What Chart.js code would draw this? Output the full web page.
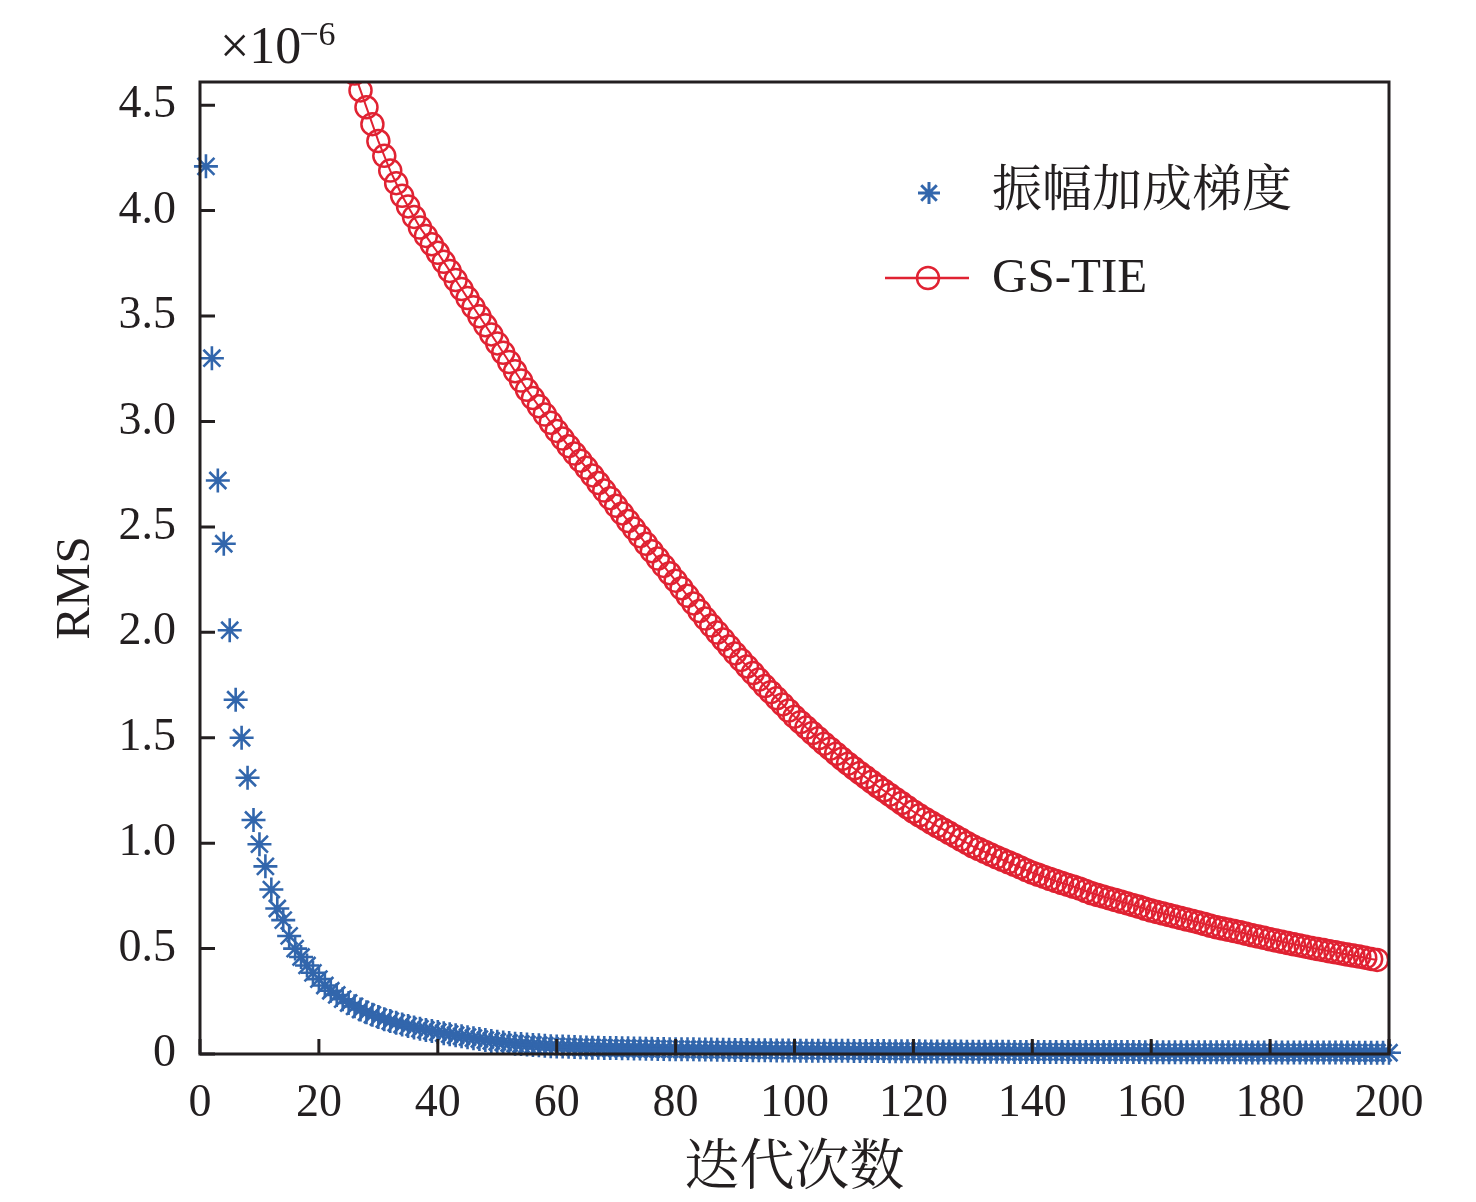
<!DOCTYPE html>
<html>
<head>
<meta charset="utf-8">
<script src="https://cdn.jsdelivr.net/npm/chart.js@4.4.0/dist/chart.umd.min.js"></script>
<style>
html,body{margin:0;padding:0;background:#fff;}
#wrap{width:1476px;height:1202px;position:relative;}
</style>
</head>
<body>
<div id="wrap"><canvas id="c" width="1476" height="1202"></canvas></div>
<script>
// ---------------- data ----------------
const blueLabel = '振幅加成梯度';
const redLabel = 'GS-TIE';
const xTitle = '迭代次数';
const yTitle = 'RMS';
const exponentBase = '×10';
const exponentPower = '−6';

const blueStart = 1;   // iteration number of first blue value
const blueValues = [
  4.21, 3.30, 2.72, 2.42, 2.01, 1.68, 1.50, 1.31, 1.11, 0.995,
  0.89, 0.78, 0.69, 0.635, 0.56, 0.50, 0.46, 0.42, 0.385, 0.355,
  0.325, 0.30, 0.28, 0.26, 0.242, 0.226, 0.211, 0.198, 0.186, 0.175,
  0.165, 0.156, 0.148, 0.140, 0.133, 0.126, 0.120, 0.114, 0.109, 0.104,
  0.099, 0.094, 0.089, 0.084, 0.080, 0.075, 0.071, 0.066, 0.062, 0.058,
  0.055, 0.052, 0.049, 0.047, 0.045, 0.043, 0.041, 0.039, 0.037, 0.036,
  0.035, 0.034, 0.033, 0.032, 0.031, 0.030, 0.030, 0.029, 0.028, 0.028,
  0.027, 0.027, 0.026, 0.026, 0.025, 0.025, 0.024, 0.024, 0.023, 0.023,
  0.022, 0.022, 0.022, 0.021, 0.021, 0.021, 0.020, 0.020, 0.020, 0.019,
  0.019, 0.019, 0.018, 0.018, 0.018, 0.018, 0.017, 0.017, 0.017, 0.017,
  0.016, 0.016, 0.016, 0.016, 0.015, 0.015, 0.015, 0.015, 0.015, 0.014,
  0.014, 0.014, 0.014, 0.014, 0.014, 0.013, 0.013, 0.013, 0.013, 0.013,
  0.013, 0.012, 0.012, 0.012, 0.012, 0.012, 0.012, 0.012, 0.011, 0.011,
  0.011, 0.011, 0.011, 0.011, 0.011, 0.011, 0.010, 0.010, 0.010, 0.010,
  0.010, 0.010, 0.010, 0.010, 0.010, 0.010, 0.009, 0.009, 0.009, 0.009,
  0.009, 0.009, 0.009, 0.009, 0.009, 0.009, 0.009, 0.009, 0.008, 0.008,
  0.008, 0.008, 0.008, 0.008, 0.008, 0.008, 0.008, 0.008, 0.008, 0.008,
  0.008, 0.008, 0.008, 0.008, 0.008, 0.007, 0.007, 0.007, 0.007, 0.007,
  0.007, 0.007, 0.007, 0.007, 0.007, 0.007, 0.007, 0.007, 0.007, 0.007,
  0.007, 0.007, 0.007, 0.006, 0.006, 0.006, 0.006, 0.006, 0.006, 0.006
];

const redStart = 24;   // iteration number of first red value
const redValues = [
  4.84, 4.74, 4.65, 4.57, 4.49, 4.41, 4.33,
  4.26, 4.19, 4.13, 4.07, 4.02, 3.97, 3.92, 3.88, 3.84, 3.80,
  3.757, 3.714, 3.671, 3.628, 3.585, 3.542, 3.499, 3.456, 3.413, 3.37,
  3.326, 3.282, 3.238, 3.194, 3.15, 3.111, 3.072, 3.033, 2.994, 2.955,
  2.919, 2.883, 2.848, 2.814, 2.78, 2.744, 2.708, 2.672, 2.636, 2.60,
  2.564, 2.528, 2.492, 2.456, 2.42, 2.385, 2.35, 2.315, 2.28, 2.245,
  2.209, 2.173, 2.137, 2.101, 2.065, 2.032, 1.999, 1.966, 1.933, 1.90,
  1.869, 1.838, 1.807, 1.776, 1.745, 1.716, 1.687, 1.658, 1.629, 1.60,
  1.574, 1.548, 1.522, 1.497, 1.472, 1.448, 1.424, 1.400, 1.377, 1.355,
  1.333, 1.312, 1.291, 1.270, 1.250, 1.230, 1.210, 1.190, 1.170, 1.150,
  1.132, 1.115, 1.098, 1.081, 1.065, 1.049, 1.033, 1.017, 1.001, 0.985,
  0.972, 0.959, 0.946, 0.933, 0.921, 0.909, 0.897, 0.885, 0.872, 0.860,
  0.850, 0.840, 0.830, 0.820, 0.811, 0.802, 0.793, 0.784, 0.773, 0.762,
  0.754, 0.746, 0.738, 0.730, 0.722, 0.714, 0.706, 0.698, 0.689, 0.680,
  0.673, 0.666, 0.659, 0.652, 0.645, 0.638, 0.631, 0.624, 0.616, 0.608,
  0.601, 0.595, 0.589, 0.583, 0.577, 0.570, 0.563, 0.557, 0.551, 0.544,
  0.538, 0.532, 0.526, 0.520, 0.515, 0.509, 0.503, 0.498, 0.493, 0.487,
  0.482, 0.477, 0.472, 0.467, 0.462, 0.457, 0.451, 0.446
];

const xTicks = [0, 20, 40, 60, 80, 100, 120, 140, 160, 180, 200];
const yTicks = [0, 0.5, 1.0, 1.5, 2.0, 2.5, 3.0, 3.5, 4.0, 4.5];
const xMin = 0, xMax = 200;
const yMin = 0, yMax = 4.61;

// ---------------- styling ----------------
const BLUE = 'rgb(50,102,172)';
const RED = 'rgb(224,34,50)';
const INK = '#231f20';
const SERIF = "'Liberation Serif', 'Times New Roman', 'Noto Serif CJK SC', 'Noto Sans CJK SC', serif";

const bluePoints = blueValues.map((v, i) => ({ x: blueStart + i, y: v }));
const redPoints = redValues.map((v, i) => ({ x: redStart + i, y: v }));

const framePlugin = {
  id: 'frameAndLegend',
  afterDraw(chart) {
    const ctx = chart.ctx;
    const ca = chart.chartArea;
    const xs = chart.scales.x, ys = chart.scales.y;
    ctx.save();
    ctx.strokeStyle = INK;
    ctx.lineWidth = 3;
    // inward ticks
    ctx.beginPath();
    xs.ticks.forEach(t => {
      const px = xs.getPixelForValue(t.value);
      ctx.moveTo(px, ca.bottom);
      ctx.lineTo(px, ca.bottom - 15);
    });
    ys.ticks.forEach(t => {
      const py = ys.getPixelForValue(t.value);
      ctx.moveTo(ca.left, py);
      ctx.lineTo(ca.left + 15, py);
    });
    ctx.stroke();
    // frame
    ctx.strokeRect(ca.left, ca.top, ca.right - ca.left, ca.bottom - ca.top);

    ctx.fillStyle = INK;
    // y axis title (rotated)
    ctx.save();
    ctx.translate(76, 588);
    ctx.rotate(-Math.PI / 2);
    ctx.textAlign = 'center';
    ctx.textBaseline = 'middle';
    ctx.font = '49px ' + SERIF;
    ctx.fillText(yTitle, 0, 0);
    ctx.restore();

    // exponent label
    ctx.textBaseline = 'alphabetic';
    ctx.textAlign = 'left';
    ctx.font = '52px ' + SERIF;
    ctx.fillText(exponentBase, 220, 63);
    const w = ctx.measureText(exponentBase).width;
    ctx.font = '34px ' + SERIF;
    ctx.fillText(exponentPower, 220 + w - 2, 45);

    // legend
    const ds = chart.data.datasets;
    ctx.textBaseline = 'middle';
    // entry 1: star marker
    ctx.strokeStyle = ds[0].pointBorderColor;
    ctx.fillStyle = 'rgba(0,0,0,0)';
    Chart.helpers.drawPoint(ctx, { pointStyle: 'star', radius: 11, borderWidth: 2.5, rotation: 0 }, 929, 193);
    ctx.fillStyle = INK;
    ctx.font = '50px ' + SERIF;
    ctx.fillText(ds[0].label, 992, 193);
    // entry 2: line + circle
    ctx.strokeStyle = ds[1].borderColor;
    ctx.lineWidth = 2.5;
    ctx.beginPath();
    ctx.moveTo(885, 278);
    ctx.lineTo(969, 278);
    ctx.stroke();
    ctx.fillStyle = 'rgba(0,0,0,0)';
    Chart.helpers.drawPoint(ctx, { pointStyle: 'circle', radius: 11, borderWidth: 2.5, rotation: 0 }, 928, 278);
    ctx.fillStyle = INK;
    ctx.font = '49px ' + SERIF;
    ctx.fillText(ds[1].label, 992, 279);
    ctx.restore();
  }
};

new Chart(document.getElementById('c'), {
  type: 'scatter',
  data: {
    datasets: [
      {
        label: blueLabel,
        data: bluePoints,
        showLine: false,
        pointStyle: 'star',
        pointRadius: 12,
        pointHoverRadius: 12,
        pointBorderWidth: 2.6,
        pointBorderColor: BLUE,
        pointBackgroundColor: BLUE,
        borderColor: BLUE,
        clip: false
      },
      {
        label: redLabel,
        data: redPoints,
        showLine: true,
        borderColor: RED,
        borderWidth: 2,
        pointStyle: 'circle',
        pointRadius: 11,
        pointHoverRadius: 11,
        pointBorderWidth: 2.5,
        pointBorderColor: RED,
        pointBackgroundColor: 'rgba(0,0,0,0)',
        clip: 1
      }
    ]
  },
  options: {
    responsive: false,
    animation: false,
    devicePixelRatio: 1,
    layout: { padding: { left: 0, right: 87, top: 82, bottom: 0 } },
    plugins: { legend: { display: false }, tooltip: { enabled: false } },
    scales: {
      x: {
        type: 'linear',
        min: xMin, max: xMax,
        afterBuildTicks: s => { s.ticks = xTicks.map(v => ({ value: v })); },
        afterFit: s => { s.height = 148; },
        grid: { display: false },
        border: { display: false },
        ticks: {
          color: INK,
          font: { family: SERIF, size: 46 },
          padding: 14,
          maxRotation: 0,
          autoSkip: false,
          callback: v => String(v)
        },
        title: {
          display: true,
          text: xTitle,
          color: INK,
          font: { family: SERIF, size: 55 },
          padding: { top: 0, bottom: -1 }
        }
      },
      y: {
        type: 'linear',
        min: yMin, max: yMax,
        afterBuildTicks: s => { s.ticks = yTicks.map(v => ({ value: v })); },
        afterFit: s => { s.width = 200; },
        grid: { display: false },
        border: { display: false },
        ticks: {
          color: INK,
          font: { family: SERIF, size: 46 },
          padding: 16,
          autoSkip: false,
          callback: v => (v === 0 ? '0' : v.toFixed(1))
        },
        title: { display: false }
      }
    }
  },
  plugins: [framePlugin]
});
</script>
</body>
</html>
